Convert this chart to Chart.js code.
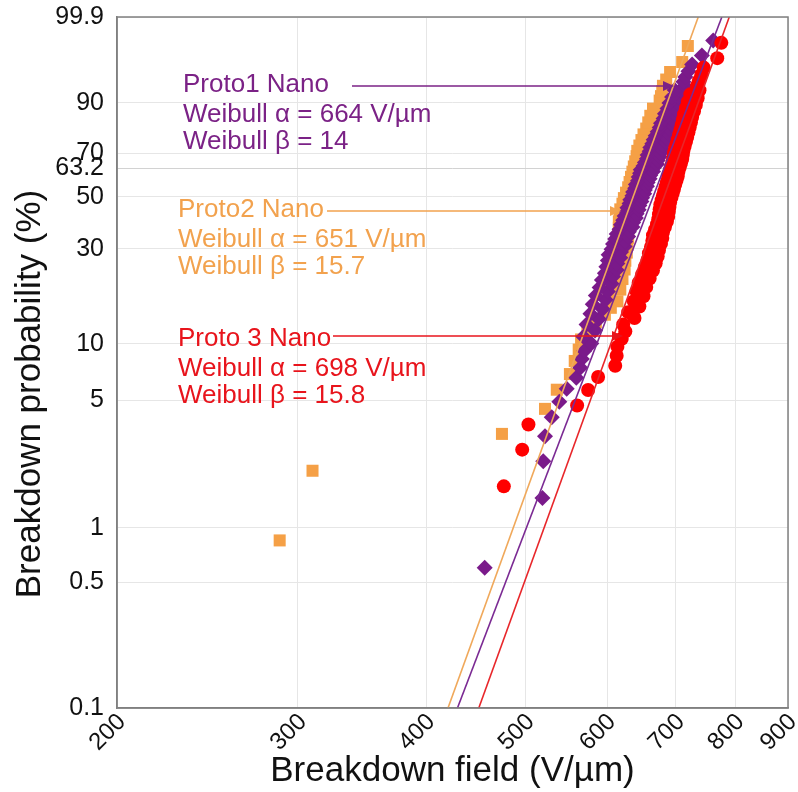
<!DOCTYPE html>
<html>
<head>
<meta charset="utf-8">
<script src="https://cdn.jsdelivr.net/npm/chart.js@4.4.1/dist/chart.umd.min.js"></script>
<style>
  html, body { margin: 0; padding: 0; background: #fff; }
  #wrap { width: 798px; height: 792px; }
</style>
</head>
<body>
<div id="wrap"><canvas id="weibull" width="798" height="792"></canvas></div>
<script>
// ticks
const xTicks = [200, 300, 400, 500, 600, 700, 800, 900];
const yTicks = [0.1, 0.5, 1, 5, 10, 30, 50, 63.2, 70, 90, 99.9];

// Proto1 Nano - field (V/µm) and probability (%)
const proto1Field = [456, 519, 520, 522, 530, 539, 548, 560, 565, 567,
  570, 579, 569, 584, 573, 589, 578, 594, 581, 598,
  585, 601, 590, 606, 593, 608, 597, 613, 599, 614,
  601, 618, 602, 619, 606, 624, 608, 625, 611, 629,
  613, 630, 617, 635, 619, 636, 622, 640, 624, 641,
  627, 644, 628, 645, 631, 648, 632, 649, 635, 652,
  636, 653, 639, 656, 640, 657, 643, 660, 644, 661,
  646, 665, 647, 666, 651, 671, 653, 672, 656, 675,
  657, 676, 660, 679, 661, 680, 664, 684, 666, 685,
  669, 689, 672, 691, 675, 695, 677, 696, 681, 701,
  683, 702, 687, 707, 690, 709, 694, 713, 698, 714,
  712, 715, 720, 726, 742, 761];
const proto1Prob = [0.60, 1.46, 2.32, 3.18, 4.04, 4.90, 5.76, 6.62, 7.47, 8.33,
  9.19, 10.05, 10.91, 11.77, 12.63, 13.49, 14.35, 15.21, 16.07, 16.92,
  17.78, 18.64, 19.50, 20.36, 21.22, 22.08, 22.94, 23.80, 24.66, 25.52,
  26.37, 27.23, 28.09, 28.95, 29.81, 30.67, 31.53, 32.39, 33.25, 34.11,
  34.97, 35.82, 36.68, 37.54, 38.40, 39.26, 40.12, 40.98, 41.84, 42.70,
  43.56, 44.42, 45.27, 46.13, 46.99, 47.85, 48.71, 49.57, 50.43, 51.29,
  52.15, 53.01, 53.87, 54.73, 55.58, 56.44, 57.30, 58.16, 59.02, 59.88,
  60.74, 61.60, 62.46, 63.32, 64.18, 65.03, 65.89, 66.75, 67.61, 68.47,
  69.33, 70.19, 71.05, 71.91, 72.77, 73.63, 74.48, 75.34, 76.20, 77.06,
  77.92, 78.78, 79.64, 80.50, 81.36, 82.22, 83.08, 83.93, 84.79, 85.65,
  86.51, 87.37, 88.23, 89.09, 89.95, 90.81, 91.67, 92.53, 93.38, 94.24,
  95.10, 95.96, 96.82, 97.68, 98.54, 99.40];

// Proto2 Nano
const proto2Field = [288, 310, 474, 522, 536, 552, 558, 563, 566, 574,
  585, 597, 605, 614, 602, 618, 605, 621, 608, 624,
  611, 625, 612, 627, 614, 628, 614, 629, 615, 629,
  616, 630, 616, 631, 617, 631, 618, 634, 621, 636,
  623, 639, 626, 642, 629, 644, 631, 646, 633, 648,
  635, 650, 637, 652, 639, 654, 641, 655, 642, 658,
  645, 661, 648, 664, 651, 667, 655, 671, 658, 674,
  661, 677, 665, 681, 675, 677, 679, 680, 685, 691,
  710, 719];
const proto2Prob = [0.85, 2.06, 3.28, 4.49, 5.70, 6.92, 8.13, 9.34, 10.56, 11.77,
  12.99, 14.20, 15.41, 16.63, 17.84, 19.05, 20.27, 21.48, 22.69, 23.91,
  25.12, 26.33, 27.55, 28.76, 29.98, 31.19, 32.40, 33.62, 34.83, 36.04,
  37.26, 38.47, 39.68, 40.90, 42.11, 43.33, 44.54, 45.75, 46.97, 48.18,
  49.39, 50.61, 51.82, 53.03, 54.25, 55.46, 56.67, 57.89, 59.10, 60.32,
  61.53, 62.74, 63.96, 65.17, 66.38, 67.60, 68.81, 70.02, 71.24, 72.45,
  73.67, 74.88, 76.09, 77.31, 78.52, 79.73, 80.95, 82.16, 83.37, 84.59,
  85.80, 87.01, 88.23, 89.44, 90.66, 91.87, 93.08, 94.30, 95.51, 96.72,
  97.94, 99.15];

// Proto 3 Nano
const proto3Field = [476, 496, 503, 561, 575, 588, 611, 613, 614, 620,
  625, 622, 638, 629, 645, 637, 651, 641, 655,
  644, 660, 649, 665, 653, 669, 657, 672, 659, 674,
  662, 677, 664, 679, 665, 680, 668, 683, 671, 686,
  673, 688, 674, 689, 675, 690, 676, 691, 678, 693,
  680, 695, 682, 697, 684, 699, 686, 701, 688, 703,
  689, 704, 691, 706, 693, 708, 695, 710, 696, 711,
  697, 712, 699, 714, 701, 716, 703, 718, 705, 720,
  707, 722, 709, 724, 711, 726, 713, 729, 716, 732,
  719, 735, 723, 738, 734, 737, 741, 745, 768, 775];
const proto3Prob = [1.69, 2.69, 3.69, 4.68, 5.68, 6.67, 7.67, 8.67, 9.66, 10.66,
  11.65, 12.65, 13.65, 14.64, 15.64, 16.63, 17.63, 18.63, 19.62,
  20.62, 21.61, 22.61, 23.61, 24.60, 25.60, 26.59, 27.59, 28.59, 29.58,
  30.58, 31.57, 32.57, 33.57, 34.56, 35.56, 36.55, 37.55, 38.55, 39.54,
  40.54, 41.53, 42.53, 43.53, 44.52, 45.52, 46.51, 47.51, 48.51, 49.50,
  50.50, 51.49, 52.49, 53.49, 54.48, 55.48, 56.47, 57.47, 58.47, 59.46,
  60.46, 61.45, 62.45, 63.45, 64.44, 65.44, 66.43, 67.43, 68.43, 69.42,
  70.42, 71.41, 72.41, 73.41, 74.40, 75.40, 76.39, 77.39, 78.39, 79.38,
  80.38, 81.37, 82.37, 83.37, 84.36, 85.36, 86.35, 87.35, 88.35, 89.34,
  90.34, 91.33, 92.33, 93.33, 94.32, 95.32, 96.31, 97.31, 98.31, 99.30];

// fitted lines, field at 0.1 % and 99.9 %
const fitProb = [0.1, 99.9];
const proto1Fit = [429, 776];
const proto2Fit = [420, 736];
const proto3Fit = [450, 789];

const PURPLE = '#7a1a8a';
const ORANGE = '#f5a046';
const RED = '#ff0000';
const FONT = '"Liberation Sans", Arial, sans-serif';

// weibull probability scale
const wb = p => Math.log(-Math.log(1 - p / 100));
const pts = (xs, ps) => xs.map((x, i) => ({ x: x, y: wb(ps[i]) }));

const notes = [
  { color: '#7b2286', x: 183, base: [92, 122, 149], lines: ['Proto1 Nano', 'Weibull α = 664 V/µm', 'Weibull β = 14'], arrow: [352, 674, 86] },
  { color: '#f2a24e', x: 178, base: [217, 247, 274], lines: ['Proto2 Nano', 'Weibull α = 651 V/µm', 'Weibull β = 15.7'], arrow: [327, 621, 211] },
  { color: '#e8141c', x: 178, base: [346, 376, 403], lines: ['Proto 3 Nano', 'Weibull α = 698 V/µm', 'Weibull β = 15.8'], arrow: [333, 623, 336] }
];

const extras = {
  id: 'extras',
  afterDraw(chart) {
    const c = chart.ctx, a = chart.chartArea;
    c.save();
    // frame
    c.strokeStyle = '#808080';
    c.lineWidth = 1.5;
    c.strokeRect(a.left, a.top, a.right - a.left, a.bottom - a.top);
    // y title
    c.fillStyle = '#111';
    c.font = '35px ' + FONT;
    c.textAlign = 'center';
    c.textBaseline = 'middle';
    c.translate(30, 394);
    c.rotate(-Math.PI / 2);
    c.fillText('Breakdown probability (%)', 0, 0);
    c.restore();

    c.save();
    c.font = '26px ' + FONT;
    c.textAlign = 'left';
    c.textBaseline = 'alphabetic';
    notes.forEach(n => {
      c.fillStyle = n.color;
      n.lines.forEach((t, i) => c.fillText(t, n.x, n.base[i]));
      const [x1, x2, y] = n.arrow;
      c.strokeStyle = n.color;
      c.lineWidth = 1.5;
      c.beginPath();
      c.moveTo(x1, y);
      c.lineTo(x2 - 8, y);
      c.stroke();
      c.beginPath();
      c.moveTo(x2, y);
      c.lineTo(x2 - 11, y - 5);
      c.lineTo(x2 - 11, y + 5);
      c.closePath();
      c.fill();
    });
    c.restore();
  }
};

const fitLine = (xs, color, w) => ({
  data: pts(xs, fitProb),
  showLine: true,
  borderColor: color,
  borderWidth: w,
  pointRadius: 0,
  order: 1
});

new Chart(document.getElementById('weibull'), {
  type: 'scatter',
  data: {
    datasets: [
      { label: 'Proto2 Nano', data: pts(proto2Field, proto2Prob), pointStyle: 'rect', pointRadius: 8.5,
        backgroundColor: ORANGE, borderColor: ORANGE, borderWidth: 0, order: 5 },
      { label: 'Proto1 Nano', data: pts(proto1Field, proto1Prob), pointStyle: 'rectRot', pointRadius: 8,
        backgroundColor: PURPLE, borderColor: PURPLE, borderWidth: 0, order: 4 },
      { label: 'Proto 3 Nano', data: pts(proto3Field, proto3Prob), pointStyle: 'circle', pointRadius: 7,
        backgroundColor: RED, borderColor: RED, borderWidth: 0, order: 3 },
      fitLine(proto2Fit, '#f0a85a', 1.6),
      fitLine(proto1Fit, '#7b2a93', 1.6),
      fitLine(proto3Fit, '#e8262a', 1.6)
    ]
  },
  options: {
    responsive: false,
    animation: false,
    layout: { padding: { left: 0, right: 10, top: 17, bottom: 0 } },
    plugins: { legend: { display: false }, tooltip: { enabled: false } },
    scales: {
      x: {
        type: 'logarithmic',
        min: 200,
        max: 900,
        afterBuildTicks: s => { s.ticks = xTicks.map(v => ({ value: v })); },
        afterFit: s => { s.height = 84; s.paddingLeft = 0; s.paddingRight = 0; },
        ticks: {
          autoSkip: false, minRotation: 45, maxRotation: 45, padding: 0, labelOffset: 5,
          color: '#111', font: { family: FONT, size: 24 },
          callback: v => String(v)
        },
        grid: { color: '#e6e6e6', lineWidth: 1, drawTicks: false },
        border: { color: '#808080', width: 1.5 },
        title: { display: true, text: 'Breakdown field (V/µm)', color: '#111',
          font: { family: FONT, size: 35 }, padding: { top: 0, bottom: 0 } }
      },
      y: {
        type: 'linear',
        min: wb(0.1),
        max: wb(99.9),
        afterBuildTicks: s => { s.ticks = yTicks.map(p => ({ value: wb(p) })); },
        afterFit: s => { s.width = 117; s.paddingTop = 0; s.paddingBottom = 0; },
        ticks: {
          autoSkip: false, padding: 13,
          color: '#111', font: { family: FONT, size: 25 },
          callback: (v, i) => String(yTicks[i])
        },
        grid: {
          drawTicks: false, lineWidth: 1,
          color: ctx => (ctx.tick && Math.abs(ctx.tick.value - wb(63.2)) < 1e-6) ? '#d2d2d2' : '#e6e6e6'
        },
        border: { color: '#808080', width: 1.5 }
      }
    }
  },
  plugins: [extras]
});
</script>
</body>
</html>
